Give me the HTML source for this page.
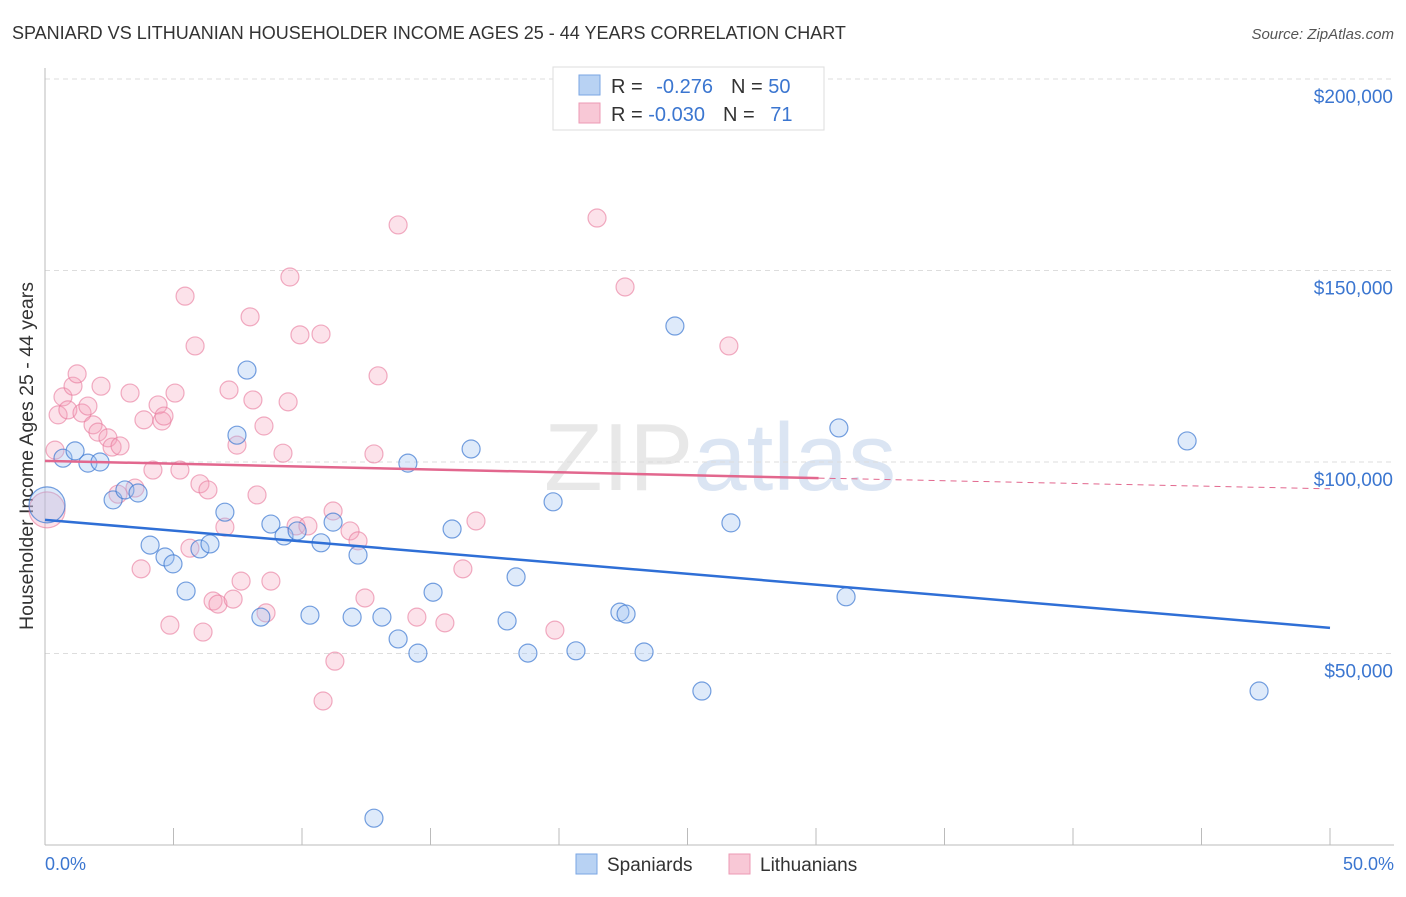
<!DOCTYPE html>
<html><head><meta charset="utf-8"><style>
body{margin:0;background:#fff;font-family:"Liberation Sans",sans-serif;}
svg text{font-family:"Liberation Sans",sans-serif;}
</style></head><body>
<svg id="chart" width="1406" height="892" xmlns="http://www.w3.org/2000/svg">
<text x="12" y="39" font-size="18" fill="#333">SPANIARD VS LITHUANIAN HOUSEHOLDER INCOME AGES 25 - 44 YEARS CORRELATION CHART</text>
<text x="1394" y="39" font-size="15" fill="#555" text-anchor="end" font-style="italic">Source: ZipAtlas.com</text>
<text x="720" y="490" font-size="96" fill="#e8e8e8" text-anchor="middle" font-family="Liberation Serif">ZIP<tspan fill="#dbe5f3" font-family="Liberation Sans">atlas</tspan></text>
<g id="grid"></g>
<line x1="45" y1="68" x2="45" y2="845" stroke="#bbb"/>
<line x1="45" y1="845" x2="1394" y2="845" stroke="#bbb"/>
<g id="xticks"></g>
<text transform="translate(33,456) rotate(-90)" font-size="19.5" fill="#333" text-anchor="middle">Householder Income Ages 25 - 44 years</text>
<text x="45" y="870" font-size="18" fill="#3b76d0">0.0%</text>
<text x="1394" y="870" font-size="18" fill="#3b76d0" text-anchor="end">50.0%</text>
<g id="points"></g>
<g id="trends"></g>
<g>
<rect x="553" y="67" width="271" height="63" fill="#fff" stroke="#ddd"/>
<rect x="579" y="75" width="21" height="20" fill="#b8d2f3" stroke="#7aa6e3"/>
<rect x="579" y="103" width="21" height="20" fill="#f8c8d6" stroke="#ec9ab4"/>
<text x="611" y="93" font-size="20" fill="#333">R = <tspan fill="#3b76d0" dx="8">-0.276</tspan><tspan dx="18">N = </tspan><tspan fill="#3b76d0">50</tspan></text>
<text x="611" y="121" font-size="20" fill="#333">R = <tspan fill="#3b76d0">-0.030</tspan><tspan dx="18">N = </tspan><tspan fill="#3b76d0" dx="10">71</tspan></text>
</g>
<g>
<rect x="576" y="854" width="21" height="20" fill="#b8d2f3" stroke="#7aa6e3"/>
<text x="607" y="871" font-size="19" fill="#333">Spaniards</text>
<rect x="729" y="854" width="21" height="20" fill="#f8c8d6" stroke="#ec9ab4"/>
<text x="760" y="871" font-size="19" fill="#333">Lithuanians</text>
</g>
</svg>
<script>
const yTicks=[50000,100000,150000,200000];
const yTickLabels=["$50,000","$100,000","$150,000","$200,000"];
const blueX=[0.08,0.7,1.17,1.67,2.14,2.65,3.11,3.62,4.09,4.67,4.98,5.49,6.03,6.42,7.0,7.47,7.86,8.4,8.79,9.3,9.81,10.31,10.74,11.21,12.18,11.95,13.11,13.74,14.12,14.51,15.1,15.84,16.58,17.98,18.33,18.79,19.77,20.66,22.37,22.61,23.31,24.51,25.56,26.69,30.89,31.17,44.44,47.24,12.8];
const blueY=[88.8,101,102.9,99.7,100,90.1,92.7,91.9,78.3,75.2,73.4,66.3,77.3,78.6,86.9,107,124,59.5,83.8,80.7,82,60,78.9,84.3,75.7,59.5,59.5,53.8,99.7,50.1,66,82.5,103.4,58.5,70,50.1,89.6,50.7,60.8,60.3,50.4,135.5,40.2,84.1,108.9,64.8,105.5,40.2,7.0];
const pinkX=[0.08,0.39,0.51,0.7,0.89,1.09,1.25,1.44,1.67,1.87,2.06,2.18,2.45,2.61,2.92,2.84,3.31,3.5,3.74,3.85,4.2,4.4,4.55,4.63,4.86,5.06,5.25,5.45,5.64,5.84,6.03,6.15,6.34,6.54,6.73,7.0,7.16,7.32,7.47,7.63,7.98,8.09,8.25,8.52,8.6,8.79,9.26,9.46,9.53,9.77,9.92,10.23,10.74,10.82,11.21,11.28,11.87,12.18,12.45,12.8,12.96,13.74,14.47,15.56,16.26,16.77,19.84,21.48,22.57,26.61];
const pinkY=[87.5,103.1,112.3,117,113.6,119.8,123,112.8,114.6,109.7,107.8,119.8,106.3,103.9,104.2,91.6,118,93.2,72.1,111,97.9,114.9,110.7,112,57.4,118,97.9,143.3,77.5,130.3,94.3,55.6,92.7,63.7,62.9,83,118.8,64.2,104.4,68.9,137.9,116.2,91.4,109.4,60.6,68.9,102.3,115.7,148.3,83.3,133.2,83.3,133.4,37.6,87.2,48,82,79.4,64.5,102.1,122.5,161.9,59.5,58,72.1,84.6,56.1,163.7,145.7,130.3];
const blueTrend=[84.9,56.7];
const pinkTrend=[100.3,95.8,93.0];
const pinkSolidEnd=30.1;

const NS="http://www.w3.org/2000/svg";
const xs=p=>45+p*25.7;
const ys=k=>462-(k-100)*3.83;
function mk(tag,attrs,parent){const e=document.createElementNS(NS,tag);for(const k in attrs)e.setAttribute(k,attrs[k]);document.getElementById(parent).appendChild(e);return e;}

yTicks.forEach((v,i)=>{
  const y=ys(v/1000);
  const l=mk('line',{x1:45,x2:1394,y1:y,y2:y,stroke:'#ddd','stroke-dasharray':'5,4'},'grid');
  
  
  const t=mk('text',{x:1393,y:y+24,'font-size':19,fill:'#3b76d0','text-anchor':'end'},'grid');
  t.textContent=yTickLabels[i];
  
  
});
for(let i=1;i<=10;i++){
  const l=mk('line',{x1:45+i*128.5,x2:45+i*128.5,y1:828,y2:845,stroke:'#bbb'},'xticks');
  
  
}
function dot(x,y,r,fill,stroke){
  return mk('circle',{cx:xs(x),cy:ys(y),r:r,fill:fill,stroke:stroke,'stroke-width':1.2},'points');
}
pinkX.forEach((x,i)=>{
  const c=dot(x,pinkY[i],i===0?18:9,'rgba(244,160,186,0.3)','rgba(232,120,155,0.6)');
  
  
});
blueX.forEach((x,i)=>{
  const c=dot(x,blueY[i],i===0?18:9,'rgba(160,196,240,0.35)','rgba(60,120,210,0.7)');
  
  
});
const bl=mk('line',{x1:xs(0),y1:ys(blueTrend[0]),x2:xs(50),y2:ys(blueTrend[1]),stroke:'#2f6fd6','stroke-width':2.5},'trends');


const pl=mk('line',{x1:xs(0),y1:ys(pinkTrend[0]),x2:xs(pinkSolidEnd),y2:ys(pinkTrend[1]),stroke:'#e2678e','stroke-width':2.5},'trends');


const pd=mk('line',{x1:xs(pinkSolidEnd),y1:ys(pinkTrend[1]),x2:xs(50),y2:ys(pinkTrend[2]),stroke:'#e2678e','stroke-width':1,'stroke-dasharray':'6,5'},'trends');


</script>
</body></html>
